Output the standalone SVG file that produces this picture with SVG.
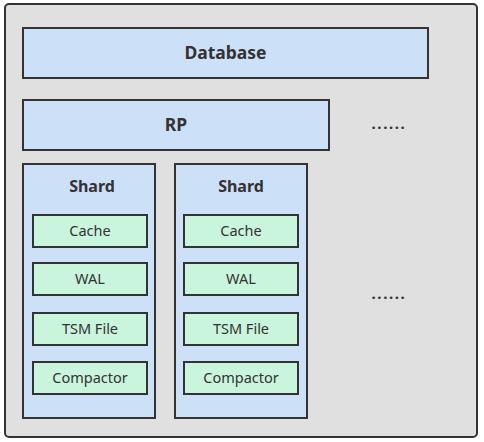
<svg xmlns="http://www.w3.org/2000/svg" width="484" height="442" viewBox="0 0 484 442">
<style>
.outer{fill:#e0e0e0;stroke:#333;stroke-width:2}
.blue{fill:#cce0f8;stroke:#333;stroke-width:2}
.green{fill:#c8f5dc;stroke:#333;stroke-width:2}
.t{font-family:"Noto Sans","Open Sans",sans-serif;fill:#333;text-anchor:middle;dominant-baseline:central}
.b{font-weight:bold;font-size:17.5px}
.s{font-weight:bold;font-size:16px}
.n{font-size:14.5px}
.d{font-family:"Noto Sans",sans-serif;font-weight:bold;font-size:15px;fill:#333;text-anchor:middle;letter-spacing:1.6px}
</style>
<rect width="484" height="442" fill="#ffffff"/>
<rect class="outer" x="5" y="4" width="472" height="433" rx="4"/>
<g id="database"><rect class="blue" x="23" y="28" width="405" height="50"/><text class="t b" x="225.5" y="52">Database</text></g>
<g id="rp"><rect class="blue" x="23" y="100" width="306" height="50"/><text class="t b" x="176" y="124">RP</text></g>
<g id="dots1"><text class="d" x="389" y="129">......</text></g>
<g id="dots2"><text class="d" x="389" y="299">......</text></g>
<g id="shard1">
<rect class="blue" x="23" y="164" width="132" height="254"/>
<text class="t s" x="92" y="186">Shard</text>
<rect class="green" x="33" y="215" width="114" height="32"/><text class="t n" x="90" y="230">Cache</text>
<rect class="green" x="33" y="263" width="114" height="32"/><text class="t n" x="90" y="278">WAL</text>
<rect class="green" x="33" y="313" width="114" height="32"/><text class="t n" x="90" y="328">TSM File</text>
<rect class="green" x="33" y="362" width="114" height="32"/><text class="t n" x="90" y="377">Compactor</text>
</g>
<g id="shard2">
<rect class="blue" x="175" y="164" width="132" height="254"/>
<text class="t s" x="241" y="186">Shard</text>
<rect class="green" x="184" y="215" width="114" height="32"/><text class="t n" x="241" y="230">Cache</text>
<rect class="green" x="184" y="263" width="114" height="32"/><text class="t n" x="241" y="278">WAL</text>
<rect class="green" x="184" y="313" width="114" height="32"/><text class="t n" x="241" y="328">TSM File</text>
<rect class="green" x="184" y="362" width="114" height="32"/><text class="t n" x="241" y="377">Compactor</text>
</g>
<g id="connectors"/>
</svg>
